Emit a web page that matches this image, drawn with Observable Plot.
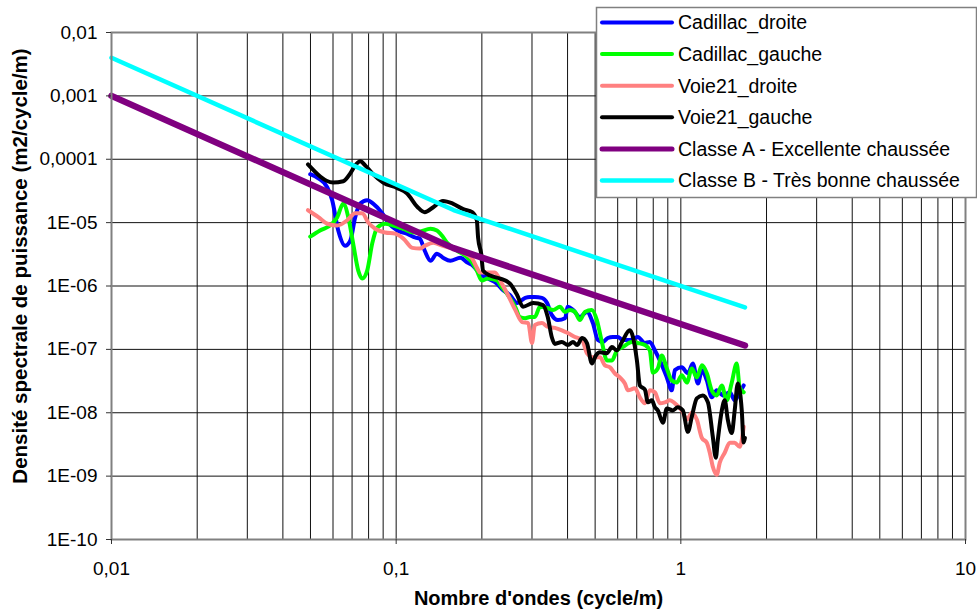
<!DOCTYPE html>
<html>
<head>
<meta charset="utf-8">
<script src="https://cdn.jsdelivr.net/npm/d3@7"></script>
<script src="https://cdn.jsdelivr.net/npm/@observablehq/plot@0.6"></script>
<style>
  html, body { margin: 0; padding: 0; background: #fff; }
  #wrap { position: relative; width: 977px; height: 615px; font-family: "Liberation Sans", Arial, sans-serif; }
  #legend { position: absolute; left: 596px; top: 7px; }
</style>
</head>
<body>
<div id="wrap"><div id="chart"></div><div id="legend"></div></div>
<script>
// ---- data ----
const xTicks = [0.01, 0.1, 1, 10];
const xTickLabels = ["0,01", "0,1", "1", "10"];
const yTicks = [1e-10, 1e-9, 1e-8, 1e-7, 1e-6, 1e-5, 1e-4, 1e-3, 1e-2];
const yTickLabels = ["1E-10", "1E-09", "1E-08", "1E-07", "1E-06", "1E-05", "0,0001", "0,001", "0,01"];

const cadillacDroite = [
[0.0499,5.8e-5],[0.0533,5.0e-5],[0.0573,3.6e-5],[0.0596,2.26e-5],[0.0626,7.5e-6],[0.0662,4.3e-6],[0.069,5.2e-6],[0.0718,1.22e-5],[0.0748,2.0e-5],[0.0791,2.26e-5],[0.083,2.0e-5],[0.0893,1.41e-5],[0.0937,1.0e-5],[0.101,7.5e-6],[0.109,6.7e-6],[0.117,5.8e-6],[0.121,5.6e-6],[0.126,3.6e-6],[0.132,2.5e-6],[0.139,3.24e-6],[0.146,2.8e-6],[0.155,2.5e-6],[0.168,2.8e-6],[0.178,2.34e-6],[0.186,2.1e-6],[0.197,1.57e-6],[0.210,1.31e-6],[0.226,1.09e-6],[0.237,8.65e-7],[0.251,7.2e-7],[0.266,5.4e-7],[0.284,6.5e-7],[0.295,6.7e-7],[0.307,6.7e-7],[0.325,6.5e-7],[0.339,5.4e-7],[0.352,3.5e-7],[0.370,2.9e-7],[0.392,3.1e-7],[0.401,4.7e-7],[0.418,4.2e-7],[0.442,3.24e-7],[0.468,3.9e-7],[0.491,2.6e-7],[0.511,1.41e-7],[0.532,1.31e-7],[0.554,1.51e-7],[0.577,1.57e-7],[0.601,1.57e-7],[0.625,1.41e-7],[0.662,1.41e-7],[0.706,1.57e-7],[0.748,1.26e-7],[0.778,1.31e-7],[0.811,9.6e-8],[0.844,6.7e-8],[0.893,3.6e-8],[0.929,2.26e-8],[0.953,4.7e-8],[1.008,5.2e-8],[1.059,4.2e-8],[1.102,6.0e-8],[1.148,2.9e-8],[1.186,4.7e-8],[1.234,3.24e-8],[1.284,1.75e-8],[1.337,2.26e-8],[1.403,1.88e-8],[1.486,2.1e-8],[1.546,1.57e-8],[1.610,2.1e-8],[1.663,2.7e-8]
];

const cadillacGauche = [
[0.0499,6.0e-6],[0.054,7.5e-6],[0.0596,9.6e-6],[0.0621,1.22e-5],[0.0652,2.0e-5],[0.0679,1.22e-5],[0.0706,4.7e-6],[0.0736,1.75e-6],[0.076,1.31e-6],[0.0791,1.75e-6],[0.0824,4.7e-6],[0.0858,8.3e-6],[0.0915,9.6e-6],[0.0975,9.0e-6],[0.106,8.0e-6],[0.115,7.0e-6],[0.121,7.2e-6],[0.132,8.0e-6],[0.139,7.5e-6],[0.145,6.2e-6],[0.151,4.8e-6],[0.164,3.6e-6],[0.175,3.0e-6],[0.185,2.34e-6],[0.192,1.75e-6],[0.200,1.22e-6],[0.210,1.31e-6],[0.226,1.22e-6],[0.235,9.6e-7],[0.247,7.2e-7],[0.262,4.7e-7],[0.272,3.24e-7],[0.284,3.1e-7],[0.295,3.24e-7],[0.307,3.24e-7],[0.320,4.7e-7],[0.339,4.5e-7],[0.356,4.2e-7],[0.376,4.7e-7],[0.392,3.9e-7],[0.408,4.2e-7],[0.425,3.9e-7],[0.442,2.9e-7],[0.460,3.9e-7],[0.487,4.2e-7],[0.507,2.9e-7],[0.528,1.31e-7],[0.550,6.7e-8],[0.573,6.7e-8],[0.596,9.6e-8],[0.625,1.09e-7],[0.673,1.31e-7],[0.706,1.26e-7],[0.748,1.17e-7],[0.778,9.6e-8],[0.798,4.3e-8],[0.830,5.0e-8],[0.857,8.0e-8],[0.893,5.0e-8],[0.929,3.24e-8],[0.968,3.0e-8],[1.008,3.9e-8],[1.050,3.0e-8],[1.093,5.0e-8],[1.138,3.6e-8],[1.186,5.6e-8],[1.234,4.2e-8],[1.284,2.26e-8],[1.337,1.88e-8],[1.393,2.7e-8],[1.449,1.57e-8],[1.510,3.0e-8],[1.571,6.0e-8],[1.610,2.5e-8],[1.663,2.1e-8]
];

const voie21Droite = [
[0.049,1.57e-5],[0.0533,1.22e-5],[0.0573,9.6e-6],[0.0621,9.0e-6],[0.0673,1.09e-5],[0.0718,1.41e-5],[0.076,1.41e-5],[0.0798,1.0e-5],[0.0844,8.0e-6],[0.0915,7.0e-6],[0.0991,6.7e-6],[0.106,5.6e-6],[0.114,4.0e-6],[0.121,3.9e-6],[0.126,4.3e-6],[0.135,4.8e-6],[0.146,4.3e-6],[0.158,3.9e-6],[0.172,3.36e-6],[0.185,2.7e-6],[0.192,1.95e-6],[0.197,1.63e-6],[0.208,1.63e-6],[0.222,1.63e-6],[0.235,1.09e-6],[0.247,7.2e-7],[0.262,4.2e-7],[0.277,2.7e-7],[0.291,2.6e-7],[0.300,1.26e-7],[0.307,2.43e-7],[0.325,2.6e-7],[0.341,2.26e-7],[0.361,2.18e-7],[0.382,2.0e-7],[0.401,1.81e-7],[0.425,1.57e-7],[0.450,1.41e-7],[0.468,8.65e-8],[0.491,7.5e-8],[0.520,7.5e-8],[0.541,5.6e-8],[0.564,5.2e-8],[0.586,4.2e-8],[0.611,3.6e-8],[0.636,2.9e-8],[0.652,2.26e-8],[0.690,2.43e-8],[0.718,1.75e-8],[0.748,1.41e-8],[0.778,2.26e-8],[0.811,2.1e-8],[0.844,1.41e-8],[0.879,1.46e-8],[0.915,1.57e-8],[0.953,1.41e-8],[1.008,1.09e-8],[1.050,7.8e-9],[1.093,1.0e-8],[1.138,7.8e-9],[1.186,4.0e-9],[1.234,3.36e-9],[1.264,2.34e-9],[1.295,1.41e-9],[1.337,1.05e-9],[1.37,1.63e-9],[1.426,2.34e-9],[1.486,3.36e-9],[1.546,3.36e-9],[1.610,2.9e-9],[1.663,6.0e-9]
];

const voie21Gauche = [
[0.049,8.3e-5],[0.060,4.3e-5],[0.0652,4.5e-5],[0.069,6.0e-5],[0.0718,8.0e-5],[0.0748,9.3e-5],[0.0778,8.0e-5],[0.0824,6.0e-5],[0.090,4.3e-5],[0.101,3.5e-5],[0.109,2.9e-5],[0.119,1.75e-5],[0.126,1.46e-5],[0.135,1.75e-5],[0.146,2.2e-5],[0.158,2.0e-5],[0.172,1.63e-5],[0.185,1.46e-5],[0.192,1.09e-5],[0.194,5.8e-6],[0.199,3.2e-6],[0.202,1.75e-6],[0.214,1.46e-6],[0.232,1.31e-6],[0.251,1.09e-6],[0.266,7.2e-7],[0.279,4.7e-7],[0.303,5.4e-7],[0.328,5.0e-7],[0.341,3.2e-7],[0.352,1.57e-7],[0.361,1.22e-7],[0.382,1.31e-7],[0.401,1.17e-7],[0.418,1.31e-7],[0.432,1.17e-7],[0.450,1.51e-7],[0.468,1.26e-7],[0.487,6.0e-8],[0.503,8.0e-8],[0.520,9.0e-8],[0.550,8.7e-8],[0.573,1.09e-7],[0.596,9.6e-8],[0.621,1.31e-7],[0.662,2.0e-7],[0.679,1.57e-7],[0.701,6.7e-8],[0.718,2.7e-8],[0.748,2.3e-8],[0.766,1.46e-8],[0.791,1.57e-8],[0.811,1.22e-8],[0.830,1.09e-8],[0.865,6.95e-9],[0.893,1.17e-8],[0.937,1.09e-8],[0.975,1.22e-8],[1.016,1.09e-8],[1.059,5.0e-9],[1.093,8.65e-9],[1.138,1.69e-8],[1.194,1.88e-8],[1.245,1.46e-8],[1.295,4.2e-9],[1.327,1.95e-9],[1.349,3.75e-9],[1.393,1.09e-8],[1.426,1.57e-8],[1.462,7.8e-9],[1.510,4.8e-9],[1.546,1.09e-8],[1.585,2.9e-8],[1.637,1.09e-8],[1.663,3.4e-9],[1.679,4.0e-9]
];

const classeA = [[0.01,1.0e-3],[0.159,3.96e-6],[1.68,1.15e-7]];
const classeB = [[0.01,4.0e-3],[0.159,1.58e-5],[1.68,4.6e-7]];

const seriesNames = ["Cadillac_droite", "Cadillac_gauche", "Voie21_droite", "Voie21_gauche", "Classe A - Excellente chaussée", "Classe B - Très bonne chaussée"];
const seriesColors = ["#0000FF", "#00FF00", "#FF8080", "#000000", "#800080", "#00FFFF"];
const seriesWidths = [4, 4, 4, 4, 6.5, 4.5];
const seriesData = [cadillacDroite, cadillacGauche, voie21Droite, voie21Gauche, classeA, classeB];

const xTitle = "Nombre d'ondes (cycle/m)";
const yTitle = "Densité spectrale de puissance (m2/cycle/m)";

// minor gridlines (1..9 within each decade)
const xGrid = [];
for (const d of [0.01, 0.1, 1]) for (let k = 1; k <= 9; k++) xGrid.push(d * k);
xGrid.push(10);

const xLabelOf = new Map(xTicks.map((v, i) => [v, xTickLabels[i]]));
const yLabelOf = new Map(yTicks.map((v, i) => [v, yTickLabels[i]]));

const font = "'Liberation Sans', Arial, sans-serif";

const chart = Plot.plot({
  width: 977,
  height: 615,
  marginLeft: 111,
  marginRight: 12,
  marginTop: 32,
  marginBottom: 76,
  style: { fontFamily: font, background: "#fff", overflow: "visible", color: "#000" },
  x: { type: "log", domain: [0.01, 10] },
  y: { type: "log", domain: [1e-10, 0.01] },
  marks: [
    Plot.ruleX(xGrid, { stroke: "#111", strokeWidth: 1 }),
    Plot.ruleY(yTicks, { stroke: "#111", strokeWidth: 1 }),
    ...seriesData.map((d, i) => Plot.line(d, {
      x: p => p[0], y: p => p[1],
      stroke: seriesColors[i], strokeWidth: seriesWidths[i],
      curve: i < 4 ? "monotone-x" : "linear",
      strokeLinejoin: "round", strokeLinecap: "round"
    })),
    Plot.frame({ stroke: "#808080", strokeWidth: 2 }),
    Plot.axisX(xTicks, {
      tickFormat: d => xLabelOf.get(d), tickSize: 5, tickPadding: 17,
      fontSize: 19, label: null, stroke: "#333", fill: "#000"
    }),
    Plot.axisY(yTicks, {
      tickFormat: d => yLabelOf.get(d), tickSize: 5, tickPadding: 9,
      fontSize: 19, label: null, stroke: "#333", fill: "#000"
    }),
    Plot.text([xTitle], { frameAnchor: "bottom", dy: 65, fontWeight: "bold", fontSize: 20, fill: "#000", textAnchor: "middle" }),
    Plot.text([yTitle], { frameAnchor: "left", dx: -91, dy: -20, rotate: -90, fontWeight: "bold", fontSize: 20.5, fill: "#000", textAnchor: "middle" })
  ]
});
document.getElementById("chart").appendChild(chart);

// legend
const lg = d3.select("#legend").append("svg").attr("width", 381).attr("height", 191)
  .style("overflow", "visible").style("font-family", font);
lg.append("rect").attr("x", 0.5).attr("y", 0.5).attr("width", 380).attr("height", 190)
  .attr("fill", "#fff").attr("stroke", "#808080").attr("stroke-width", 1.5);
seriesNames.forEach((name, i) => {
  const cy = 15.5 + i * 31.6;
  lg.append("line").attr("x1", 6).attr("x2", 76).attr("y1", cy).attr("y2", cy)
    .attr("stroke", seriesColors[i]).attr("stroke-width", Math.min(seriesWidths[i], 5))
    .attr("stroke-linecap", "round");
  lg.append("text").attr("x", 82).attr("y", cy).attr("dy", "0.35em")
    .attr("font-size", 19.5).attr("fill", "#000").text(name);
});
</script>
</body>
</html>
